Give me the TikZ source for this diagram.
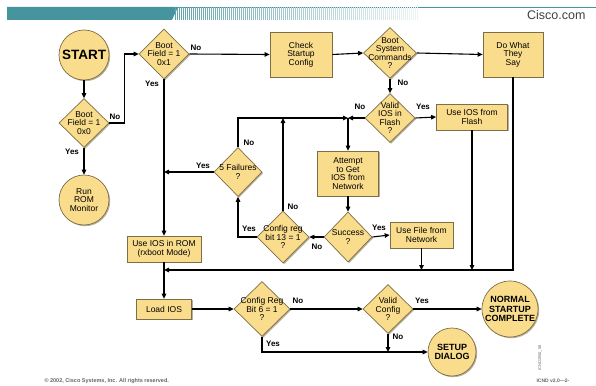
\documentclass[tikz,border=0pt]{standalone}
\usepackage{fontspec}
\setmainfont{Liberation Sans}
\usetikzlibrary{arrows.meta,shapes.geometric,shadows}

\definecolor{giallo}{RGB}{250,221,140}
\definecolor{bordo}{RGB}{125,110,72}
\definecolor{ciano}{RGB}{70,148,158}

\begin{document}
\begin{tikzpicture}[x=1pt, y=-1pt,
  every node/.style={font=\fontsize{8.5}{8.5}\selectfont},
  >={Triangle[length=5pt,width=4.5pt]},
  flusso/.style={->, line width=1.1pt},
  ombra/.style={drop shadow={shadow xshift=1.2pt, shadow yshift=-1.2pt, opacity=0.55, fill=bordo}},
  blocco/.style={draw=bordo, fill=giallo, line width=0.7pt, inner sep=0pt, align=center, ombra},
  ramo/.style={diamond, draw=bordo, fill=giallo, line width=0.7pt, inner sep=0pt, ombra},
  cerchio/.style={circle, draw=bordo, fill=giallo, line width=0.7pt, inner sep=0pt, align=center, ombra},
  testo/.style={align=center, inner sep=0pt, font=\fontsize{8.5}{8.5}\selectfont},
  etich/.style={font=\bfseries\fontsize{8}{8}\selectfont, inner sep=0pt}]

\useasboundingbox (0,0) rectangle (596,385);

% --- Intestazione ---
\fill[ciano] (7,7) -- (178,7) -- (172,20) -- (7,20) -- cycle;
\draw[ciano, line width=0.6pt] (7,7) -- (596,7);
\foreach \x in {175,177,...,417} {
  \pgfmathsetmacro\p{85-75*((\x-175)/242)}
  \draw[ciano!\p!white, line width=0.9pt] (\x,7) -- (\x,20);
}
\node[font=\fontsize{12.5}{12.5}\selectfont, text=black!75, anchor=east] (sito) at (589,15) {Cisco.com};

% --- Avvio ---
\node[cerchio, minimum size=50, font=\bfseries\fontsize{13.5}{14}\selectfont] (start) at (84,55) {START};
\node[ramo, minimum width=50, minimum height=49, label={[testo]center:Boot\\Field = 1\\0x0}] (bootzero) at (84,123) {};
\node[cerchio, minimum size=50] (rommon) at (84,200) {Run\\ROM\\Monitor};
\node[ramo, minimum width=50, minimum height=50, label={[testo]center:Boot\\Field = 1\\0x1}] (bootone) at (164,54) {};

% --- Riga superiore ---
\node[blocco, minimum width=62, minimum height=45] (checkcfg) at (301,54.5) {Check\\Startup\\Config};
\node[ramo, minimum width=53, minimum height=51, label={[testo]center:Boot\\System\\Commands\\?}] (bootsys) at (390,53) {};
\node[blocco, minimum width=60, minimum height=45] (dowhat) at (513,54.5) {Do What\\They\\Say};

% --- Flash e rete ---
\node[ramo, minimum width=50, minimum height=49, label={[testo]center:Valid\\IOS in\\Flash\\?}] (validios) at (390,118) {};
\node[blocco, minimum width=71, minimum height=26] (iosflash) at (472,117) {Use IOS from\\Flash};
\node[blocco, minimum width=61, minimum height=45] (attempt) at (348,173.5) {Attempt\\to Get\\IOS from\\Network};
\node[ramo, minimum width=48, minimum height=50, label={[testo]center:Success\\?}] (success) at (348,237) {};
\node[blocco, minimum width=63, minimum height=26] (filenet) at (421.5,235) {Use File from\\Network};
\node[ramo, minimum width=52, minimum height=52, label={[testo]center:Config reg\\bit 13 = 1\\?}] (cfgthirteen) at (283,237) {};
\node[ramo, minimum width=48, minimum height=49, label={[testo]center:5 Failures\\?}] (failures) at (238,172) {};

% --- ROM e caricamento ---
\node[blocco, minimum width=74, minimum height=26] (iosrom) at (164,249) {Use IOS in ROM\\(rxboot Mode)};
\node[blocco, minimum width=55, minimum height=20] (loadios) at (164,309) {Load IOS};
\node[ramo, minimum width=56, minimum height=55, label={[testo]center:Config Reg\\Bit 6 = 1\\?}] (cfgsix) at (262,309) {};
\node[ramo, minimum width=50, minimum height=49, label={[testo]center:Valid\\Config\\?}] (validcfg) at (388,309) {};
\node[cerchio, minimum size=56, font=\bfseries\fontsize{9}{9.5}\selectfont] (normal) at (510,309) {NORMAL\\STARTUP\\COMPLETE};
\node[cerchio, minimum size=48, font=\bfseries\fontsize{9}{9.5}\selectfont] (setup) at (452,352) {SETUP\\DIALOG};

\coordinate (nodo) at (348,118);
\coordinate (bus) at (513,270);

% --- Collegamenti ---
\draw[flusso] (start.south) -- (bootzero.north);
\draw[flusso] (bootzero.south) -- (rommon.north);
\draw[flusso] (bootzero.east) -- ++(15,0) |- (bootone.west);
\draw[flusso] (bootone.east) -- (checkcfg.west);
\draw[flusso] (bootone.south) -- (iosrom.north);
\draw[flusso] (checkcfg.east) -- (bootsys.west);
\draw[flusso] (bootsys.east) -- (dowhat.west);
\draw[flusso] (bootsys.south) -- (validios.north);
\draw[flusso] (validios.east) -- (iosflash.west);
\draw[flusso] (validios.west) -- (nodo);
\draw[flusso] (failures.north) |- (nodo);
\draw[flusso] (nodo) -- (attempt.north);
\draw[flusso] (attempt.south) -- (success.north);
\draw[flusso] (success.east) -- (filenet.west);
\draw[flusso] (success.west) -- (cfgthirteen.east);
\draw[flusso] (cfgthirteen.north) -- (cfgthirteen.north |- nodo);
\draw[flusso] (cfgthirteen.west) -| (failures.south);
\draw[flusso] (failures.west) -- (failures.west -| iosrom.north);
% ritorno comune verso il caricamento
\draw[flusso] (filenet.south) -- (filenet.south |- bus);
\draw[flusso] (iosflash.south) -- (iosflash.south |- bus);
\draw[flusso] (dowhat.south) -- (bus) -- (bus -| iosrom.north);
\draw[flusso] (iosrom.south) -- (loadios.north);
\draw[flusso] (loadios.east) -- (cfgsix.west);
\draw[flusso] (cfgsix.east) -- (validcfg.west);
\draw[flusso] (cfgsix.south) |- (setup.west);
\draw[flusso] (validcfg.east) -- (normal.west);
\draw[flusso] (validcfg.south) -- (validcfg.south |- setup.west);

% --- Etichette Yes/No ---
\node[etich] (y1) at (72,152) {Yes};
\node[etich] (n1) at (115,117) {No};
\node[etich] (n2) at (196,48) {No};
\node[etich] (y2) at (152,84) {Yes};
\node[etich] (n3) at (403,83) {No};
\node[etich] (n4) at (360,107) {No};
\node[etich] (y3) at (423,107) {Yes};
\node[etich] (n5) at (249,143) {No};
\node[etich] (y4) at (203,166) {Yes};
\node[etich] (n6) at (293,207) {No};
\node[etich] (y5) at (249,229) {Yes};
\node[etich] (n7) at (317,247) {No};
\node[etich] (y6) at (379,228) {Yes};
\node[etich] (n8) at (298,301) {No};
\node[etich] (y7) at (273,344) {Yes};
\node[etich] (y8) at (422,301) {Yes};
\node[etich] (n9) at (398,337) {No};

% --- Piede ---
\node[font=\bfseries\fontsize{5.5}{5.5}\selectfont, text=black!60, anchor=west] (copy) at (41,381) {\textcopyright{} 2002, Cisco Systems, Inc. All rights reserved.};
\node[font=\bfseries\fontsize{5}{5}\selectfont, text=black!60, anchor=west] (corso) at (533,381) {ICND v2.0---2-};
\node[font=\fontsize{4}{4}\selectfont, text=black!60, rotate=90] (codice) at (540,358) {ICND2050\_08};

\end{tikzpicture}
\end{document}
